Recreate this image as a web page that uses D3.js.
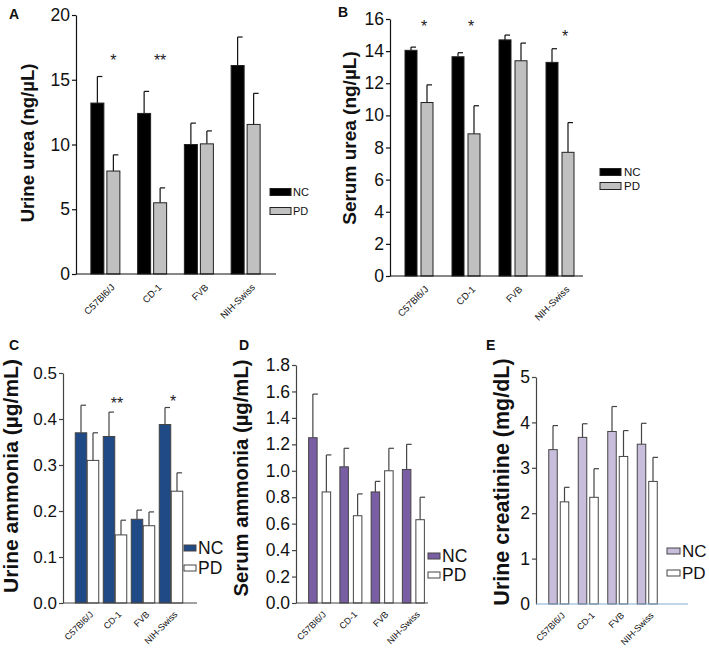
<!DOCTYPE html>
<html><head><meta charset="utf-8">
<script src="https://cdn.jsdelivr.net/npm/d3@7"></script>
<style>body{margin:0;background:#fff}svg{display:block;font-family:"Liberation Sans",Arial,sans-serif}</style>
</head><body>
<svg id="c" width="709" height="656"></svg>
<script>
const categories = ["C57Bl6/J","CD-1","FVB","NIH-Swiss"];
const seriesNames = ["NC","PD"];

// A: Urine urea (ng/µL)
const urineUreaNC = [13.2,12.4,10.0,16.1];
const urineUreaNCErr = [2.05,1.7,1.65,2.2];
const urineUreaPD = [7.95,5.5,10.05,11.55];
const urineUreaPDErr = [1.25,1.15,1.0,2.4];
const urineUreaTicks = [0,5,10,15,20];
const urineUreaStars = ["*","**","",""];
const urineUreaStarY = [16.75,16.75,0,0];

// B: Serum urea (ng/µL)
const serumUreaNC = [14.05,13.65,14.7,13.3];
const serumUreaNCErr = [0.2,0.25,0.3,0.85];
const serumUreaPD = [10.8,8.85,13.4,7.7];
const serumUreaPDErr = [1.1,1.75,1.1,1.85];
const serumUreaTicks = [0,2,4,6,8,10,12,14,16];
const serumUreaStars = ["*","*","","*"];
const serumUreaStarY = [15.75,15.75,0,15.1];

// C: Urine ammonia (µg/mL)
const urineAmmNC = [0.37,0.362,0.182,0.388];
const urineAmmNCErr = [0.06,0.053,0.02,0.037];
const urineAmmPD = [0.31,0.148,0.168,0.243];
const urineAmmPDErr = [0.06,0.032,0.03,0.04];
const urineAmmTicks = [0,0.1,0.2,0.3,0.4,0.5];
const urineAmmStars = ["","**","","*"];
const urineAmmStarY = [0,0.441,0,0.446];

// D: Serum ammonia (µg/mL)
const serumAmmNC = [1.25,1.03,0.84,1.01];
const serumAmmNCErr = [0.33,0.14,0.08,0.19];
const serumAmmPD = [0.84,0.66,1.0,0.63];
const serumAmmPDErr = [0.28,0.165,0.17,0.17];
const serumAmmTicks = [0,0.2,0.4,0.6,0.8,1.0,1.2,1.4,1.6,1.8];

// E: Urine creatinine (mg/dL)
const creatNC = [3.4,3.67,3.8,3.52];
const creatNCErr = [0.53,0.3,0.55,0.46];
const creatPD = [2.25,2.35,3.25,2.7];
const creatPDErr = [0.32,0.63,0.57,0.53];
const creatTicks = [0,1,2,3,4,5];

const svg = d3.select("#c");

function panel(o){
  const g = svg.append("g");
  const y = d3.scaleLinear().domain([0, o.max]).range([o.y0, o.y1]);
  const x = d3.scaleBand().domain(categories).range([o.bx0, o.bx1]);
  const cx = c => x(c) + x.bandwidth()/2;
  const ax = d3.axisLeft(y).tickValues(o.ticks).tickSize(4).tickSizeOuter(0).tickFormat(o.fmt);
  const ag = g.append("g").attr("transform",`translate(${o.ax},0)`).call(ax);
  ag.select(".domain").attr("stroke",o.axisColor).attr("stroke-width",1.2);
  ag.selectAll(".tick line").attr("stroke",o.axisColor).attr("stroke-width",1.2);
  ag.selectAll(".tick text").attr("font-size",o.tickFs).attr("fill","#111").attr("x",-6)
    .attr("font-family","Liberation Sans, Arial, sans-serif");
  if(o.hideZeroTick) ag.selectAll(".tick").filter(d=>d===0).select("line").remove();
  const data = categories.map((c,i)=>({c,i}));
  const series = [
    {v:o.nc, e:o.ncErr, fill:o.ncFill, dx:-o.gap/2-o.bw},
    {v:o.pd, e:o.pdErr, fill:o.pdFill, dx:o.gap/2}
  ];
  series.forEach(s=>{
    const mx = d => cx(d.c)+s.dx+o.bw/2;
    g.selectAll(null).data(data).enter().append("line")
      .attr("x1",mx).attr("x2",mx)
      .attr("y1",d=>y(s.v[d.i])).attr("y2",d=>y(s.v[d.i]+s.e[d.i]))
      .attr("stroke",o.errColor).attr("stroke-width",1.2);
    g.selectAll(null).data(data).enter().append("line")
      .attr("x1",mx).attr("x2",d=>mx(d)+o.cap)
      .attr("y1",d=>y(s.v[d.i]+s.e[d.i])).attr("y2",d=>y(s.v[d.i]+s.e[d.i]))
      .attr("stroke",o.errColor).attr("stroke-width",1.2);
    g.selectAll(null).data(data).enter().append("rect")
      .attr("x",d=>cx(d.c)+s.dx).attr("width",o.bw)
      .attr("y",d=>y(s.v[d.i])).attr("height",d=>y(0)-y(s.v[d.i]))
      .attr("fill",s.fill).attr("stroke",o.barStroke).attr("stroke-width",o.barSw);
  });
  g.append("line").attr("x1",o.ax).attr("x2",o.axEnd).attr("y1",y(0)).attr("y2",y(0))
    .attr("stroke",o.xAxisColor).attr("stroke-width",1.2);
  // x labels rotated -45°
  const lg = g.selectAll(null).data(data).enter().append("g")
    .attr("transform",d=>`translate(${cx(d.c)+o.lblDx},${y(0)+o.lblDy})`);
  lg.append("text").attr("transform","rotate(-45)")
    .attr("text-anchor","end").attr("font-size",o.lblFs).attr("fill","#111").text(d=>d.c);
  if(o.stars){
    g.selectAll(null).data(data.filter(d=>o.stars[d.i])).enter().append("text")
      .attr("x",d=>cx(d.c)+o.starDx).attr("y",d=>y(o.starY[d.i])+9)
      .attr("text-anchor","middle").attr("font-size",16).attr("fill","#222").text(d=>o.stars[d.i]);
  }
  g.append("text").attr("transform",`translate(${o.ylx},${o.yly}) rotate(-90)`)
    .attr("text-anchor","middle").attr("font-weight","bold").attr("font-size",o.ylFs)
    .attr("fill","#111").text(o.ylabel);
  g.append("text").attr("x",o.lx).attr("y",o.ly).attr("font-weight","bold").attr("font-size",14)
    .attr("fill","#111").text(o.letter);
  seriesNames.forEach((n,k)=>{
    const fill = k===0?o.ncFill:o.pdFill;
    g.append("rect").attr("x",o.legX).attr("y",o.legY[k]-o.legH/2).attr("width",o.legW).attr("height",o.legH)
      .attr("fill",fill).attr("stroke",o.legStroke).attr("stroke-width",1);
    g.append("text").attr("x",o.legX+o.legW+o.legGap).attr("y",o.legY[k]).attr("dy","0.36em")
      .attr("font-size",o.legFs).attr("fill","#111").text(n);
  });
}

panel({letter:"A",lx:9,ly:19,max:20,y0:274,y1:15,ticks:urineUreaTicks,fmt:d3.format("d"),ax:76,axEnd:276,
  bx0:82,bx1:269,bw:13,gap:3,cap:5,nc:urineUreaNC,ncErr:urineUreaNCErr,pd:urineUreaPD,pdErr:urineUreaPDErr,
  ncFill:"#000",pdFill:"#c0c0c0",barStroke:"#222",barSw:1,errColor:"#111",axisColor:"#111",xAxisColor:"#111",
  tickFs:17.5,lblFs:9.5,lblDx:10,lblDy:14,stars:urineUreaStars,starY:urineUreaStarY,starDx:8,
  ylabel:"Urine urea (ng/µL)",ylx:34,yly:143,ylFs:18.5,
  legX:270,legY:[192,211],legW:21,legH:7,legGap:2,legFs:11,legStroke:"#222"});

panel({letter:"B",lx:338,ly:17,max:16,y0:276,y1:19,ticks:serumUreaTicks,fmt:d3.format("d"),ax:390,axEnd:583,
  bx0:395.5,bx1:583.5,bw:12,gap:4,cap:5,nc:serumUreaNC,ncErr:serumUreaNCErr,pd:serumUreaPD,pdErr:serumUreaPDErr,
  ncFill:"#000",pdFill:"#c0c0c0",barStroke:"#222",barSw:1,errColor:"#111",axisColor:"#111",xAxisColor:"#111",
  tickFs:17.5,lblFs:9.5,lblDx:10,lblDy:14,stars:serumUreaStars,starY:serumUreaStarY,starDx:5,
  ylabel:"Serum urea (ng/µL)",ylx:356,yly:138,ylFs:19,
  legX:600,legY:[172,186],legW:21,legH:7,legGap:3,legFs:11.5,legStroke:"#222"});

panel({letter:"C",lx:9,ly:350,max:0.5,y0:603,y1:373,ticks:urineAmmTicks,fmt:d3.format(".1f"),ax:63,axEnd:197,
  bx0:73,bx1:185,bw:11.5,gap:0.5,cap:5,nc:urineAmmNC,ncErr:urineAmmNCErr,pd:urineAmmPD,pdErr:urineAmmPDErr,
  ncFill:"#1f4a85",pdFill:"#fff",barStroke:"#444",barSw:1,errColor:"#444",axisColor:"#444",xAxisColor:"#444",
  tickFs:17,lblFs:9,lblDx:7,lblDy:12,stars:urineAmmStars,starY:urineAmmStarY,starDx:2,
  ylabel:"Urine ammonia (µg/mL)",ylx:18,yly:476,ylFs:21,
  legX:184,legY:[548,568],legW:12,legH:6,legGap:2,legFs:17.5,legStroke:"#444"});

panel({letter:"D",lx:239,ly:350,max:1.8,y0:603,y1:365,ticks:serumAmmTicks,fmt:d3.format(".1f"),ax:296,axEnd:428,
  bx0:304,bx1:429,bw:8.5,gap:5,cap:5,nc:serumAmmNC,ncErr:serumAmmNCErr,pd:serumAmmPD,pdErr:serumAmmPDErr,
  ncFill:"#7a5ea4",pdFill:"#fff",barStroke:"#444",barSw:1,errColor:"#444",axisColor:"#444",xAxisColor:"#444",
  tickFs:17.5,lblFs:9,lblDx:7,lblDy:12,stars:null,
  ylabel:"Serum ammonia (µg/mL)",ylx:248,yly:478,ylFs:20.3,
  legX:428,legY:[556,575],legW:12,legH:6,legGap:2,legFs:17.5,legStroke:"#444"});

panel({letter:"E",lx:486,ly:350,max:5,y0:604,y1:377,ticks:creatTicks,fmt:d3.format("d"),ax:536,axEnd:688,
  bx0:544,bx1:662,bw:8.5,gap:3,cap:5,nc:creatNC,ncErr:creatNCErr,pd:creatPD,pdErr:creatPDErr,
  ncFill:"#c8bedc",pdFill:"#fff",barStroke:"#444",barSw:1,errColor:"#444",axisColor:"#444",xAxisColor:"#86a9cf",
  tickFs:17.5,lblFs:9,lblDx:7,lblDy:12,stars:null,
  ylabel:"Urine creatinine (mg/dL)",ylx:509,yly:482,ylFs:21.5,
  legX:667,legY:[551,573],legW:13,legH:6,legGap:2,legFs:17,legStroke:"#444",hideZeroTick:true});
</script>
</body></html>
